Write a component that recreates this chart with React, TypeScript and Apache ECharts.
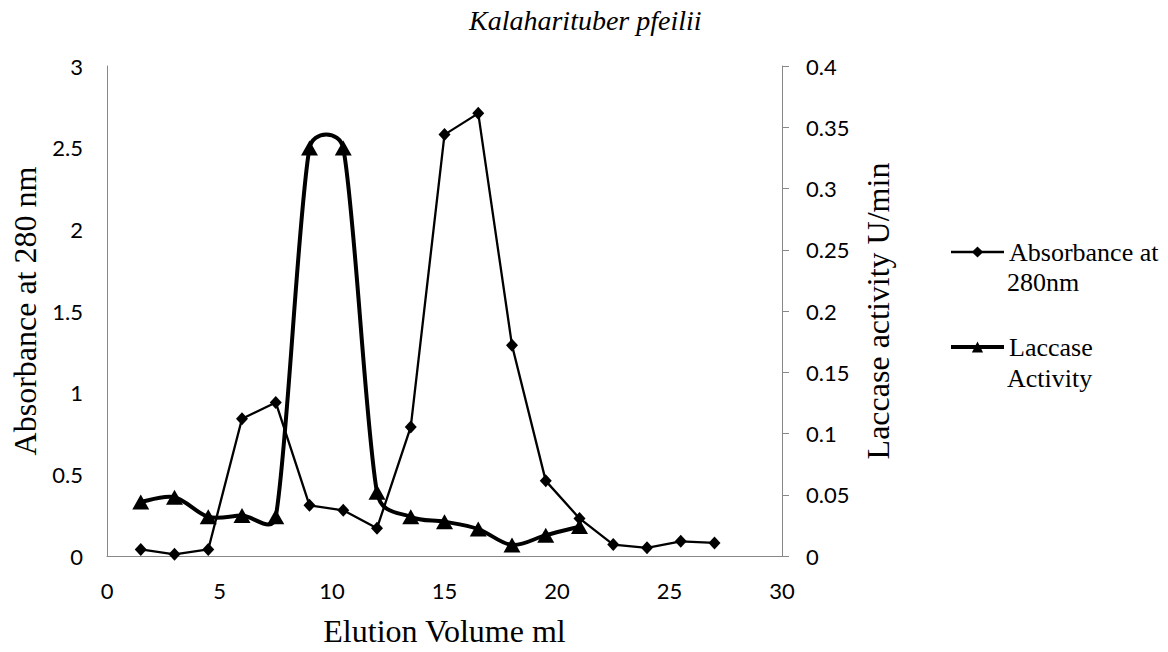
import React, { useEffect, useRef } from "react";
import * as echarts from "echarts";

const elution = [1.5, 3, 4.5, 6, 7.5, 9, 10.5, 12, 13.5, 15, 16.5, 18, 19.5, 21, 22.5, 24, 25.5, 27];
const absorbance = [0.04, 0.01, 0.04, 0.84, 0.94, 0.31, 0.28, 0.17, 0.79, 2.58, 2.71, 1.29, 0.46, 0.23, 0.07, 0.05, 0.09, 0.08];
const laccaseVolume = [1.5, 3, 4.5, 6, 7.5, 9, 10.5, 12, 13.5, 15, 16.5, 18, 19.5, 21];
const laccase = [0.044, 0.048, 0.032, 0.033, 0.032, 0.333, 0.333, 0.052, 0.032, 0.028, 0.022, 0.009, 0.017, 0.024];

const titleText = "Kalaharituber pfeilii";
const xName = "Elution Volume ml";
const yLeftName = "Absorbance at 280 nm";
const yRightName = "Laccase activity U/min";
const absName = "Absorbance at 280nm";
const lacName = "Laccase Activity";

const SERIF = "'Liberation Serif', 'Times New Roman', serif";
const SANS = "Lato, 'Open Sans', sans-serif";
const AXIS_GRAY = "#888888";

function dist(a: number[], b: number[]) {
  const dx = a[0] - b[0];
  const dy = a[1] - b[1];
  return Math.sqrt(dx * dx + dy * dy);
}

export default function App() {
  const ref = useRef<HTMLDivElement>(null);

  useEffect(() => {
    document.body.style.margin = "0";
    if (!ref.current) return;
    const chart = echarts.init(ref.current, undefined, { renderer: "svg" });

    const lacData = laccaseVolume.map((x, i) => [x, laccase[i]]);

    const renderCurve = (params: any, api: any) => {
      const i = params.dataIndex;
      const n = lacData.length;
      if (i >= n - 1) return null;
      const pts = lacData.map((d) => api.coord(d));
      const p1 = pts[i];
      const p2 = pts[i + 1];
      const p0 = i > 0 ? pts[i - 1] : p1;
      const p3 = i + 2 < n ? pts[i + 2] : p2;
      const d12 = dist(p1, p2);
      const d02 = dist(p0, p2);
      const d13 = dist(p1, p3);
      const k = 0.55;
      const f1 = d02 > 0 ? Math.min(1 / 6, (k * d12) / d02) : 0;
      const f2 = d13 > 0 ? Math.min(1 / 6, (k * d12) / d13) : 0;
      const cp1 = [p1[0] + (p2[0] - p0[0]) * f1, p1[1] + (p2[1] - p0[1]) * f1];
      const cp2 = [p2[0] - (p3[0] - p1[0]) * f2, p2[1] - (p3[1] - p1[1]) * f2];
      return {
        type: "bezierCurve",
        shape: {
          x1: p1[0], y1: p1[1], x2: p2[0], y2: p2[1],
          cpx1: cp1[0], cpy1: cp1[1], cpx2: cp2[0], cpy2: cp2[1],
        },
        style: { stroke: "#000", lineWidth: 4, fill: "none", lineCap: "round" },
      };
    };

    const legendText = { fontFamily: SERIF, fontSize: 26, fill: "#000" };

    chart.setOption({
      animation: false,
      backgroundColor: "#ffffff",
      title: {
        text: titleText,
        left: 464,
        top: 1,
        textStyle: {
          fontFamily: SERIF,
          fontStyle: "italic",
          fontWeight: "normal",
          fontSize: 28,
          color: "#000",
        },
      },
      legend: {
        orient: "vertical",
        left: 949,
        top: 239,
        padding: 0,
        itemWidth: 53,
        itemHeight: 14,
        itemGap: 69,
        selectedMode: false,
        textStyle: { fontFamily: SERIF, fontSize: 26, color: "#000" },
        formatter: (name: string) => (name === absName ? "Absorbance at" : "Laccase"),
        data: [
          { name: absName, lineStyle: { opacity: 1, width: 2.3, color: "#000" } },
          { name: lacName, lineStyle: { opacity: 1, width: 4, color: "#000" } },
        ],
      },
      graphic: [
        { type: "text", x: 1007, y: 282, style: { ...legendText, text: "280nm", verticalAlign: "middle" } },
        { type: "text", x: 1007, y: 378, style: { ...legendText, text: "Activity", verticalAlign: "middle" } },
      ],
      grid: { left: 107, right: 386, top: 66, bottom: 95, containLabel: false },
      xAxis: {
        type: "value",
        min: 0,
        max: 30,
        interval: 5,
        name: xName,
        nameLocation: "middle",
        nameGap: 59,
        nameTextStyle: { fontFamily: SERIF, fontSize: 32, color: "#000" },
        axisLine: { show: true, lineStyle: { color: AXIS_GRAY, width: 1 } },
        axisTick: { show: false },
        splitLine: { show: false },
        axisLabel: { fontFamily: SANS, fontSize: 22, color: "#000", margin: 23 },
      },
      yAxis: [
        {
          type: "value",
          min: 0,
          max: 3,
          interval: 0.5,
          position: "left",
          name: yLeftName,
          nameLocation: "middle",
          nameRotate: 90,
          nameGap: 53,
          nameTextStyle: { fontFamily: SERIF, fontSize: 32, color: "#000" },
          axisLine: { show: true, lineStyle: { color: AXIS_GRAY, width: 1 } },
          axisTick: { show: false },
          splitLine: { show: false },
          axisLabel: { fontFamily: SANS, fontSize: 22, color: "#000", margin: 24 },
        },
        {
          type: "value",
          min: 0,
          max: 0.4,
          interval: 0.05,
          position: "right",
          name: yRightName,
          nameLocation: "middle",
          nameRotate: 90,
          nameGap: 80,
          nameTextStyle: { fontFamily: SERIF, fontSize: 32, color: "#000" },
          axisLine: { show: true, lineStyle: { color: AXIS_GRAY, width: 1 } },
          axisTick: { show: true, inside: false, length: 7, lineStyle: { color: AXIS_GRAY } },
          splitLine: { show: false },
          axisLabel: { fontFamily: SANS, fontSize: 22, color: "#000", margin: 24 },
        },
      ],
      series: [
        {
          name: absName,
          type: "line",
          xAxisIndex: 0,
          yAxisIndex: 0,
          data: elution.map((x, i) => [x, absorbance[i]]),
          symbol: "diamond",
          symbolSize: [12, 13],
          lineStyle: { color: "#000", width: 2.3 },
          itemStyle: { color: "#000" },
          z: 2,
        },
        {
          name: "Laccase curve",
          type: "custom",
          xAxisIndex: 0,
          yAxisIndex: 1,
          data: lacData,
          encode: { x: 0, y: 1 },
          renderItem: renderCurve,
          silent: true,
          z: 3,
        },
        {
          name: lacName,
          type: "line",
          xAxisIndex: 0,
          yAxisIndex: 1,
          data: lacData,
          symbol: "triangle",
          symbolSize: [17, 15],
          lineStyle: { color: "#000", width: 4, opacity: 0 },
          itemStyle: { color: "#000" },
          z: 4,
        },
      ],
    });

    return () => chart.dispose();
  }, []);

  return <div ref={ref} style={{ width: 1168, height: 652 }} />;
}
